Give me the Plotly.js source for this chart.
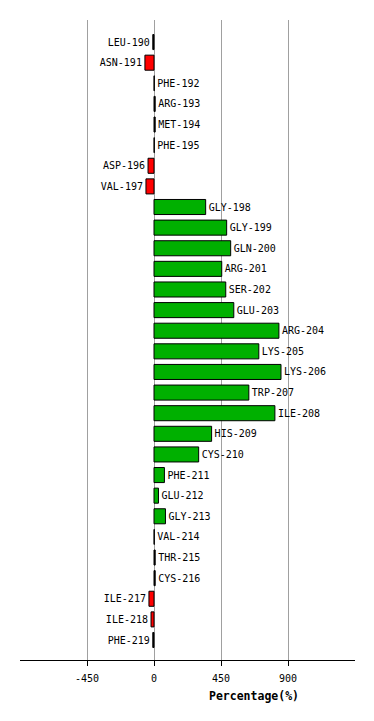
<!DOCTYPE html>
<html>
<head>
<meta charset="utf-8">
<script src="https://cdn.plot.ly/plotly-3.0.1.min.js"></script>
<style>html,body{margin:0;padding:0;background:#fff;}#chart{width:374px;height:721px;}</style>
</head>
<body>
<div id="chart"></div>
<script>
const residues = ["LEU-190","ASN-191","PHE-192","ARG-193","MET-194","PHE-195","ASP-196","VAL-197","GLY-198","GLY-199","GLN-200","ARG-201","SER-202","GLU-203","ARG-204","LYS-205","LYS-206","TRP-207","ILE-208","HIS-209","CYS-210","PHE-211","GLU-212","GLY-213","VAL-214","THR-215","CYS-216","ILE-217","ILE-218","PHE-219"];
const percentages = [-8,-61,2,8,8,2,-40,-54,347,488,515,455,482,536,839,704,853,637,812,387,300,70,30,77,2,8,8,-34,-20,-8];
const tickValues = [-450,0,450,900];
const tickLabels = ["-450","0","450","900"];

const barColors = percentages.map(v => Math.abs(v) < 10 ? "#000000" : (v > 0 ? "#00b000" : "#ff0000"));
const mono = "DejaVu Sans Mono, monospace";

const trace = {
  type: "bar",
  orientation: "h",
  x: percentages,
  y: residues,
  marker: {color: barColors, line: {color: "#000000", width: 1}},
  width: 0.73,
  text: residues,
  textposition: "outside",
  constraintext: "none",
  cliponaxis: false,
  textfont: {family: mono, size: 10, color: "#000000"},
  hoverinfo: "none"
};

const layout = {
  width: 374, height: 721,
  margin: {l: 20, r: 19, t: 20, b: 61},
  paper_bgcolor: "#ffffff", plot_bgcolor: "#ffffff",
  showlegend: false,
  xaxis: {
    range: [-900, 1350],
    tickvals: tickValues, ticktext: tickLabels,
    showgrid: true, gridcolor: "#a0a0a0", gridwidth: 1,
    zeroline: true, zerolinecolor: "#a0a0a0", zerolinewidth: 1,
    showline: true, linecolor: "#000000", linewidth: 1,
    ticks: "outside", ticklen: 5, tickcolor: "#000000",
    ticklabelstandoff: 4,
    tickfont: {family: mono, size: 10, color: "#000000"},
    fixedrange: true
  },
  yaxis: {
    type: "category",
    range: [29.97, -1.07],
    showticklabels: false, showgrid: false, zeroline: false, showline: false, ticks: "",
    fixedrange: true
  },
  annotations: [{
    text: "<b>Percentage(%)</b>",
    xref: "paper", yref: "paper",
    x: 0.699, y: -0.057, xanchor: "center", yanchor: "middle",
    showarrow: false,
    font: {family: mono, size: 11.5, color: "#000000"}
  }]
};

Plotly.newPlot("chart", [trace], layout, {displayModeBar: false, staticPlot: true});
</script>
</body>
</html>
